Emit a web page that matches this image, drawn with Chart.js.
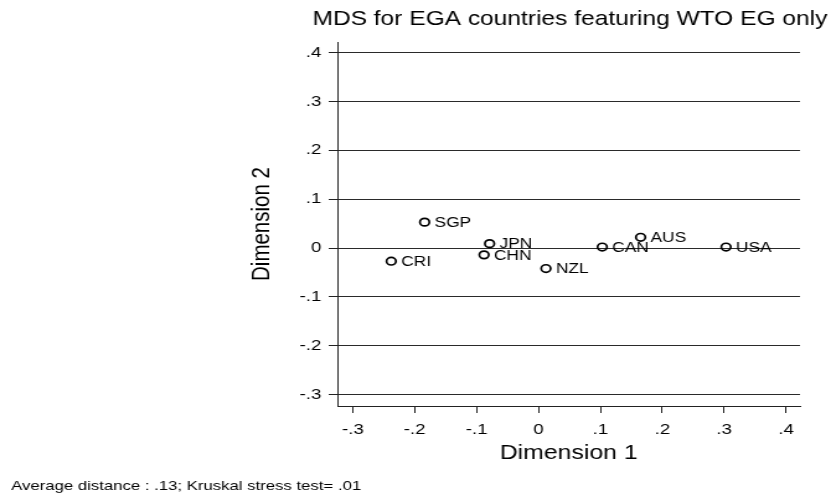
<!DOCTYPE html>
<html>
<head>
<meta charset="utf-8">
<script src="https://cdn.jsdelivr.net/npm/chart.js@4/dist/chart.umd.min.js"></script>
<style>
  html, body { margin: 0; padding: 0; background: #fff; overflow: hidden; }
  /* the graph is exported wider than it was drawn, so the canvas is stretched sideways */
  #mds { transform: scaleX(1.2403); transform-origin: 0 0; }
</style>
</head>
<body>
<canvas id="mds" width="670" height="498" style="width:670px;height:498px"></canvas>
<script>
const countries = ["SGP", "JPN", "CHN", "CRI", "NZL", "CAN", "AUS", "USA"];
const dimension1 = [-0.184, -0.079, -0.088, -0.238, 0.012, 0.103, 0.165, 0.303];
const dimension2 = [0.053, 0.009, -0.014, -0.027, -0.042, 0.002, 0.022, 0.002];

const xTicks = [-0.3, -0.2, -0.1, 0, 0.1, 0.2, 0.3, 0.4];
const xTickLabels = ["-.3", "-.2", "-.1", "0", ".1", ".2", ".3", ".4"];
const yTicks = [-0.3, -0.2, -0.1, 0, 0.1, 0.2, 0.3, 0.4];
const yTickLabels = ["-.3", "-.2", "-.1", "0", ".1", ".2", ".3", ".4"];

const title = "MDS for EGA countries featuring WTO EG only";
const note = "Average distance : .13; Kruskal stress test= .01";

const FONT = "'Liberation Sans', Arial, Helvetica, sans-serif";

// country codes next to the markers, plus the title (it is wider than the
// plot, and the built-in title would squeeze it) and the footnote
const annotations = {
  id: "annotations",
  afterDatasetsDraw(chart) {
    const ctx = chart.ctx;
    const area = chart.chartArea;
    const meta = chart.getDatasetMeta(0);
    ctx.save();
    ctx.fillStyle = "#000";
    ctx.textBaseline = "middle";

    ctx.font = "14px " + FONT;
    ctx.textAlign = "left";
    meta.data.forEach((pt, i) => {
      ctx.fillText(countries[i], pt.x + 8, pt.y + 1);
    });

    ctx.font = "13.5px " + FONT;
    ctx.fillText(note, 9, 486);

    ctx.font = "19.8px " + FONT;
    ctx.textAlign = "center";
    ctx.fillText(title, (area.left + area.right) / 2 + 1, 20);
    ctx.restore();
  },
};

const points = countries.map((c, i) => ({ x: dimension1[i], y: dimension2[i] }));

new Chart(document.getElementById("mds"), {
  type: "scatter",
  data: {
    datasets: [
      {
        data: points,
        pointStyle: "circle",
        pointRadius: 3.8,
        pointBorderWidth: 1.7,
        pointBorderColor: "#000",
        pointBackgroundColor: "rgba(255,255,255,0)",
      },
    ],
  },
  options: {
    responsive: false,
    animation: false,
    layout: { padding: { left: 190, right: 25, top: 42, bottom: 25 } },
    plugins: {
      legend: { display: false },
      tooltip: { enabled: false },
      title: { display: false },
    },
    scales: {
      x: {
        type: "linear",
        min: -0.325,
        max: 0.4225,
        afterBuildTicks: (s) => { s.ticks = xTicks.map((v) => ({ value: v })); },
        afterFit: (s) => { s.height = 67; },
        grid: { drawOnChartArea: false, drawTicks: true, tickLength: 7, tickColor: "#222", lineWidth: 1 },
        border: { display: true, color: "#222", width: 1 },
        ticks: {
          color: "#000",
          padding: 8,
          maxRotation: 0,
          font: { family: FONT, size: 15 },
          callback: (v, i) => xTickLabels[i],
        },
        title: {
          display: true,
          text: "Dimension 1",
          color: "#000",
          font: { family: FONT, size: 20 },
          padding: { top: 0, bottom: 8 },
        },
      },
      y: {
        type: "linear",
        min: -0.3234,
        max: 0.4218,
        afterBuildTicks: (s) => { s.ticks = yTicks.map((v) => ({ value: v })); },
        afterFit: (s) => { s.width = 82; },
        grid: { color: "#2a2a2a", lineWidth: 1, drawTicks: true, tickLength: 7, tickColor: "#222" },
        border: { display: true, color: "#222", width: 1 },
        ticks: {
          color: "#000",
          padding: 6,
          font: { family: FONT, size: 15 },
          callback: (v, i) => yTickLabels[i],
        },
        title: {
          display: true,
          text: "Dimension 2",
          color: "#000",
          font: { family: FONT, size: 20.5 },
          padding: { top: 9, bottom: 0 },
        },
      },
    },
  },
  plugins: [annotations],
});
</script>
</body>
</html>
